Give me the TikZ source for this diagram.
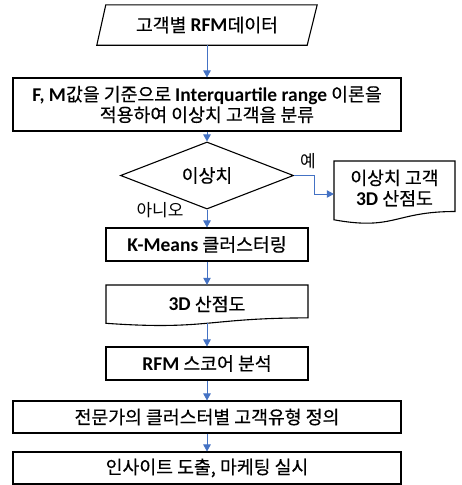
\documentclass[tikz,border=0pt]{standalone}
\usepackage{fontspec}
\usetikzlibrary{shapes.geometric,arrows.meta}
\setmainfont{Noto Sans CJK KR}
\newfontfamily\kr{Noto Sans CJK KR}[FakeBold=0.4]
\newfontfamily\lat{Carlito}
\newcommand\lb[1]{{\lat\bfseries\fontsize{19.5}{20}\selectfont #1}}
\definecolor{arrowblue}{HTML}{4472C4}
\begin{document}
\begin{tikzpicture}[x=1pt,y=-1pt,
  shapeline/.style={draw=black,line width=1.1pt},
  boxtxt/.style={inner sep=0pt,align=center,font=\kr\fontsize{18.3}{20.5}\selectfont},
  box/.style={boxtxt,shapeline,rectangle},
  ghost/.style={boxtxt,rectangle},
  lbl/.style={inner sep=0pt,font=\fontsize{17}{19}\selectfont},
  arr/.style={draw=arrowblue,line width=0.8pt,-{Triangle[length=7pt,width=7.5pt]}}]
\useasboundingbox (0,0) rectangle (462,485);
\fill[white] (0,0) rectangle (462,485);

% input (parallelogram)
\node[ghost,minimum width=220pt,minimum height=40pt] (data) at (207,25) {고객별 \lb{RFM}데이터};
\draw[shapeline] ([xshift=9pt]data.north west) -- (data.north east)
  -- ([xshift=-10pt]data.south east) -- (data.south west) -- cycle;

\node[box,minimum width=388pt,minimum height=53pt] (iqr) at (207,104.5)
  {\lb{F, M}값을 기준으로 \lb{Interquartile range} 이론을\\적용하여 이상치 고객을 분류};

\node[boxtxt,shapeline,diamond,minimum width=173pt,minimum height=42pt] (dec) at (207,175.5) {이상치};

% outlier document
\node[ghost,minimum width=121pt,minimum height=54pt] (out) at (394.5,188) {이상치 고객\\\lb{3D} 산점도};
\draw[shapeline] (334,161) -- (455,161) -- (455,211.5)
  .. controls (394.5,211.5) and (394.5,230.8) .. (334,219.8) -- cycle;

\node[box,minimum width=202pt,minimum height=33pt] (km) at (207,244.5) {\lb{K-Means} 클러스터링};

% 3D scatter document
\node[ghost,minimum width=202pt,minimum height=38pt] (sc) at (207,304) {\lb{3D} 산점도};
\draw[shapeline] (106,285) -- (308,285) -- (308,317.9)
  .. controls (207,317.9) and (207,330.4) .. (106,323.3) -- cycle;

\node[box,minimum width=202pt,minimum height=33pt] (rfm) at (207,363.5) {\lb{RFM} 스코어 분석};
\node[box,minimum width=388pt,minimum height=32pt] (exp) at (207,417) {전문가의 클러스터별 고객유형 정의};
\node[box,minimum width=388pt,minimum height=32pt] (ins) at (207,468) {인사이트 도출, 마케팅 실시};

\node[lbl] (yes) at (308,161) {예};
\node[lbl] (no) at (160,210) {아니오};

\draw[arr] (data.south) -- (iqr.north);
\draw[arr] (iqr.south) -- (dec.north);
\draw[arr] (dec.south) -- (km.north);
\draw[arr] (km.south) -- (sc.north);
\draw[arr] (sc.south) -- (rfm.north);
\draw[arr] (rfm.south) -- (exp.north);
\draw[arr] (exp.south) -- (ins.north);
\draw[arr] (dec.east) -- ++(20,0) |- ([yshift=-6pt]out.west);
\end{tikzpicture}
\end{document}
